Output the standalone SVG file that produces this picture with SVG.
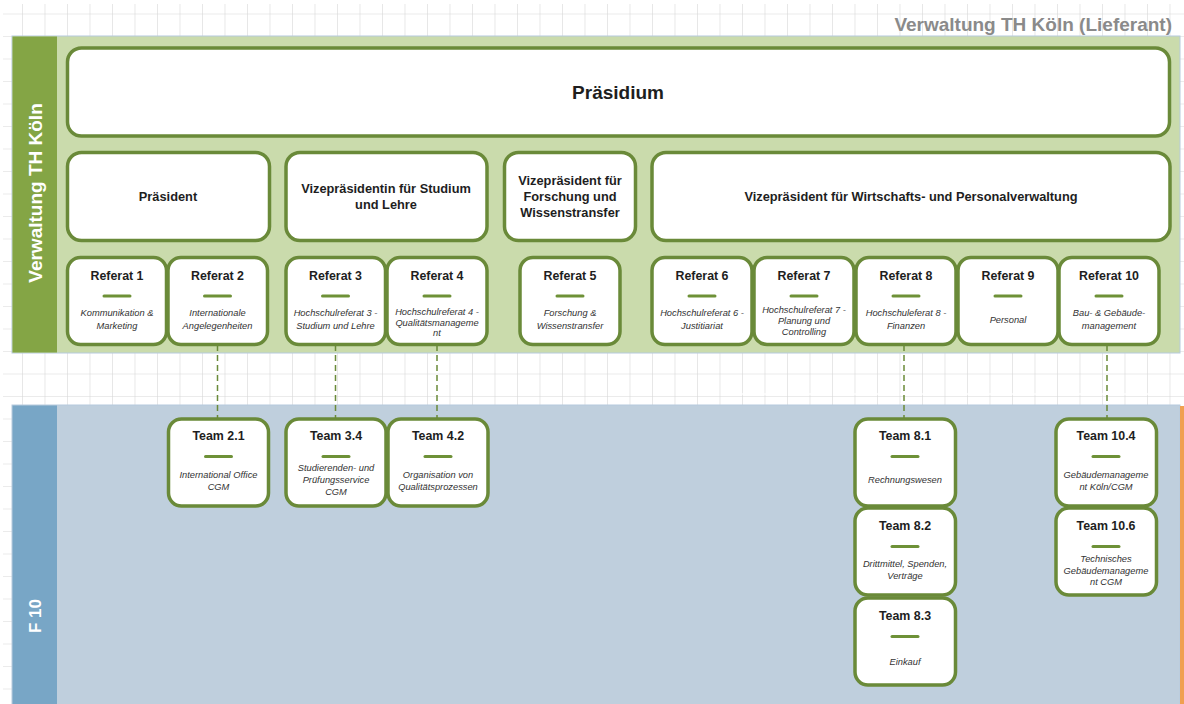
<svg xmlns="http://www.w3.org/2000/svg" width="1184" height="704" viewBox="0 0 1184 704">
<defs>
<pattern id="grid" patternUnits="userSpaceOnUse" x="22" y="13.5" width="22.5" height="22.5">
<path d="M0 0V22.5M0 0H22.5" fill="none" stroke="#d8d8d8" stroke-width="1.2"/>
</pattern>
</defs>
<style>
.box{fill:#fff;stroke:#6a8a39;stroke-width:3.5}
.bar{stroke:#6e9137;stroke-width:3;stroke-linecap:round}
.t{font-family:"Liberation Sans",Arial,sans-serif;font-weight:bold;fill:#1e1e1e;text-anchor:middle}
.h1{font-size:19px}
.h2{font-size:12.8px}
.h3{font-size:12.4px}
.s{font-family:"Liberation Sans",Arial,sans-serif;font-style:italic;font-size:9.3px;fill:#333;text-anchor:middle}
.lane{font-family:"Liberation Sans",Arial,sans-serif;font-weight:bold;fill:#fff;text-anchor:middle}
.conn{stroke:#6a8a39;stroke-width:1.5;stroke-dasharray:6 4;fill:none}
</style>
<rect width="1184" height="704" fill="#fff"/>
<rect x="3" y="4" width="1181" height="700" fill="url(#grid)"/>
<text x="1172" y="30.5" font-family="Liberation Sans,Arial,sans-serif" font-weight="bold" font-size="19" fill="#8a8a8a" text-anchor="end">Verwaltung TH Köln (Lieferant)</text>

<g id="lane-verwaltung">
<rect x="12" y="36" width="1168" height="317" fill="#cadbac" stroke="#b6cade" stroke-width="1"/>
<rect x="12.5" y="36.5" width="44.5" height="316" fill="#84a545"/>
<text class="lane" font-size="19" transform="translate(41.5 193) rotate(-90)">Verwaltung TH Köln</text>
</g>
<g id="lane-f10">
<rect x="12" y="405" width="1168" height="300" fill="#bfcfdd" stroke="#b6cade" stroke-width="1"/>
<rect x="12.5" y="405.5" width="44.5" height="299" fill="#78a6c6"/>
<rect x="1180" y="406" width="4" height="298" fill="#f0a050"/>
<text class="lane" font-size="17" transform="translate(41 616) rotate(-90)">F 10</text>
</g>
<line x1="740" y1="394" x2="1176" y2="394" stroke="#fff" stroke-width="1.5" stroke-dasharray="12 4" opacity="0.85"/>

<g id="connectors">
<line class="conn" x1="217.5" y1="345" x2="217.5" y2="419"/>
<line class="conn" x1="335.5" y1="345" x2="335.5" y2="419"/>
<line class="conn" x1="437" y1="345" x2="437" y2="419"/>
<line class="conn" x1="904" y1="345" x2="904" y2="419"/>
<line class="conn" x1="1107" y1="345" x2="1107" y2="419"/>
</g>

<g id="praesidium">
<rect class="box" x="67.5" y="48" width="1102" height="88" rx="14"/>
<text class="t h1" x="618" y="98.5">Präsidium</text>
</g>
<g id="praesident">
<rect class="box" x="67.5" y="152.5" width="202" height="88" rx="14"/>
<text class="t h2" x="168" y="201">Präsident</text>
</g>
<g id="vp-studium">
<rect class="box" x="286" y="152.5" width="201" height="88" rx="14"/>
<text class="t h2" x="386" y="193">Vizepräsidentin für Studium</text>
<text class="t h2" x="386" y="209">und Lehre</text>
</g>
<g id="vp-forschung">
<rect class="box" x="504.5" y="152.5" width="131" height="88" rx="14"/>
<text class="t h2" x="570" y="185">Vizepräsident für</text>
<text class="t h2" x="570" y="201">Forschung und</text>
<text class="t h2" x="570" y="217">Wissenstransfer</text>
</g>
<g id="vp-wirtschaft">
<rect class="box" x="652" y="152.5" width="518" height="88" rx="14"/>
<text class="t h2" x="911" y="201">Vizepräsident für Wirtschafts- und Personalverwaltung</text>
</g>

<g id="referat1">
<rect class="box" x="67.5" y="257.5" width="99" height="87" rx="13"/>
<text class="t h3" x="117" y="280">Referat 1</text>
<line class="bar" x1="104" y1="296" x2="130" y2="296"/>
<text class="s" x="117" y="316">Kommunikation &amp;</text>
<text class="s" x="117" y="329">Marketing</text>
</g>
<g id="referat2">
<rect class="box" x="168" y="257.5" width="99.5" height="87" rx="13"/>
<text class="t h3" x="217.5" y="280">Referat 2</text>
<line class="bar" x1="204.5" y1="296" x2="230.5" y2="296"/>
<text class="s" x="217.5" y="316">Internationale</text>
<text class="s" x="217.5" y="329">Angelegenheiten</text>
</g>
<g id="referat3">
<rect class="box" x="286" y="257.5" width="99.5" height="87" rx="13"/>
<text class="t h3" x="335.5" y="280">Referat 3</text>
<line class="bar" x1="322.5" y1="296" x2="348.5" y2="296"/>
<text class="s" x="335.5" y="316">Hochschulreferat 3 -</text>
<text class="s" x="335.5" y="329">Studium und Lehre</text>
</g>
<g id="referat4">
<rect class="box" x="387" y="257.5" width="100" height="87" rx="13"/>
<text class="t h3" x="437" y="280">Referat 4</text>
<line class="bar" x1="424" y1="296" x2="450" y2="296"/>
<text class="s" x="437" y="315">Hochschulreferat 4 -</text>
<text class="s" x="437" y="325.5">Qualitätsmanageme</text>
<text class="s" x="437" y="336">nt</text>
</g>
<g id="referat5">
<rect class="box" x="520" y="257.5" width="100" height="87" rx="13"/>
<text class="t h3" x="570" y="280">Referat 5</text>
<line class="bar" x1="557" y1="296" x2="583" y2="296"/>
<text class="s" x="570" y="316">Forschung &amp;</text>
<text class="s" x="570" y="329">Wissenstransfer</text>
</g>
<g id="referat6">
<rect class="box" x="652" y="257.5" width="100" height="87" rx="13"/>
<text class="t h3" x="702" y="280">Referat 6</text>
<line class="bar" x1="689" y1="296" x2="715" y2="296"/>
<text class="s" x="702" y="316">Hochschulreferat 6 -</text>
<text class="s" x="702" y="329">Justitiariat</text>
</g>
<g id="referat7">
<rect class="box" x="754" y="257.5" width="100" height="87" rx="13"/>
<text class="t h3" x="804" y="280">Referat 7</text>
<line class="bar" x1="791" y1="296" x2="817" y2="296"/>
<text class="s" x="804" y="313">Hochschulreferat 7 -</text>
<text class="s" x="804" y="324">Planung und</text>
<text class="s" x="804" y="335">Controlling</text>
</g>
<g id="referat8">
<rect class="box" x="856" y="257.5" width="100" height="87" rx="13"/>
<text class="t h3" x="906" y="280">Referat 8</text>
<line class="bar" x1="893" y1="296" x2="919" y2="296"/>
<text class="s" x="906" y="316">Hochschuleferat 8 -</text>
<text class="s" x="906" y="329">Finanzen</text>
</g>
<g id="referat9">
<rect class="box" x="958" y="257.5" width="100" height="87" rx="13"/>
<text class="t h3" x="1008" y="280">Referat 9</text>
<line class="bar" x1="995" y1="296" x2="1021" y2="296"/>
<text class="s" x="1008" y="323">Personal</text>
</g>
<g id="referat10">
<rect class="box" x="1059" y="257.5" width="100" height="87" rx="13"/>
<text class="t h3" x="1109" y="280">Referat 10</text>
<line class="bar" x1="1096" y1="296" x2="1122" y2="296"/>
<text class="s" x="1109" y="316">Bau- &amp; Gebäude-</text>
<text class="s" x="1109" y="329">management</text>
</g>

<g id="team2-1">
<rect class="box" x="168.5" y="419" width="100" height="87" rx="13"/>
<text class="t h3" x="218.5" y="440">Team 2.1</text>
<line class="bar" x1="205.5" y1="456.5" x2="231.5" y2="456.5"/>
<text class="s" x="218.5" y="478">International Office</text>
<text class="s" x="218.5" y="490">CGM</text>
</g>
<g id="team3-4">
<rect class="box" x="286" y="419" width="100" height="87" rx="13"/>
<text class="t h3" x="336" y="440">Team 3.4</text>
<line class="bar" x1="323" y1="456.5" x2="349" y2="456.5"/>
<text class="s" x="336" y="471">Studierenden- und</text>
<text class="s" x="336" y="483">Prüfungsservice</text>
<text class="s" x="336" y="495">CGM</text>
</g>
<g id="team4-2">
<rect class="box" x="388" y="419" width="100" height="87" rx="13"/>
<text class="t h3" x="438" y="440">Team 4.2</text>
<line class="bar" x1="425" y1="456.5" x2="451" y2="456.5"/>
<text class="s" x="438" y="478">Organisation von</text>
<text class="s" x="438" y="490">Qualitätsprozessen</text>
</g>
<g id="team8-1">
<rect class="box" x="855" y="419" width="100.5" height="87" rx="13"/>
<text class="t h3" x="905" y="440">Team 8.1</text>
<line class="bar" x1="892" y1="456.5" x2="918" y2="456.5"/>
<text class="s" x="905" y="483">Rechnungswesen</text>
</g>
<g id="team8-2">
<rect class="box" x="855" y="508" width="100.5" height="87" rx="13"/>
<text class="t h3" x="905" y="530">Team 8.2</text>
<line class="bar" x1="892" y1="546.5" x2="918" y2="546.5"/>
<text class="s" x="905" y="567">Drittmittel, Spenden,</text>
<text class="s" x="905" y="579">Verträge</text>
</g>
<g id="team8-3">
<rect class="box" x="855" y="598" width="100.5" height="87" rx="13"/>
<text class="t h3" x="905" y="620">Team 8.3</text>
<line class="bar" x1="892" y1="636.5" x2="918" y2="636.5"/>
<text class="s" x="905" y="665">Einkauf</text>
</g>
<g id="team10-4">
<rect class="box" x="1056" y="419" width="100.5" height="87" rx="13"/>
<text class="t h3" x="1106" y="440">Team 10.4</text>
<line class="bar" x1="1093" y1="456.5" x2="1119" y2="456.5"/>
<text class="s" x="1106" y="478">Gebäudemanageme</text>
<text class="s" x="1106" y="490">nt Köln/CGM</text>
</g>
<g id="team10-6">
<rect class="box" x="1056" y="508" width="100.5" height="87" rx="13"/>
<text class="t h3" x="1106" y="530">Team 10.6</text>
<line class="bar" x1="1093" y1="546.5" x2="1119" y2="546.5"/>
<text class="s" x="1106" y="562">Technisches</text>
<text class="s" x="1106" y="574">Gebäudemanageme</text>
<text class="s" x="1106" y="585">nt CGM</text>
</g>
</svg>
